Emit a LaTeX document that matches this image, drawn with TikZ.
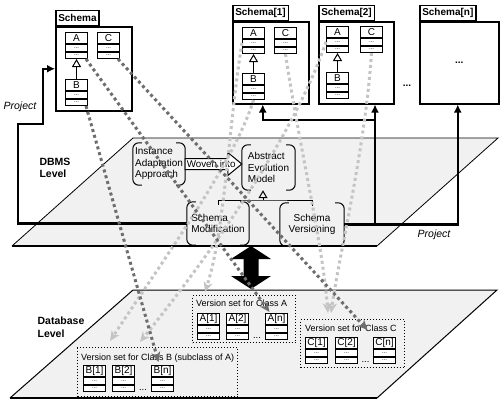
\documentclass[tikz,border=0pt]{standalone}
\usepackage{fontspec}
\setmainfont{Liberation Sans}
\usetikzlibrary{arrows.meta,calc}
\definecolor{planefill}{HTML}{F1F1F1}
\definecolor{darkdot}{HTML}{6E6E6E}
\definecolor{lightdot}{HTML}{C4C4C4}
\newcommand\umlc[4]{%
  \node[clshead, anchor=north west] (#1) at (#2,#3) {#4};
  \node[clsrow, anchor=north] (#1r1) at (#1.south) {...};
  \node[clsrow, anchor=north] (#1r2) at (#1r1.south) {...};
}
\newcommand\bracketnode[1]{%
  \draw[brline] ([xshift=9pt]#1.north west) -- (#1.north west) -- (#1.south west) -- ([xshift=9pt]#1.south west);
  \draw[brline] ([xshift=-9pt]#1.north east) -- (#1.north east) -- (#1.south east) -- ([xshift=-9pt]#1.south east);
}
\tikzset{
  clshead/.style={draw, line width=1pt, minimum width=22pt, minimum height=11pt, inner sep=0pt, fill=white, font=\fontsize{10}{10}\selectfont},
  clsrow/.style={draw, line width=1pt, minimum width=22pt, minimum height=6.5pt, inner sep=0pt, fill=white, font=\fontsize{6}{6}\selectfont},
  schbox/.style={draw, line width=1.5pt, fill=white, anchor=north west, inner sep=0pt},
  schlabel/.style={draw, line width=1.5pt, fill=white, anchor=south west, inner xsep=2.5pt, inner ysep=0pt, minimum height=15pt, font=\bfseries\fontsize{10}{10}\selectfont},
  brnode/.style={align=left, inner sep=0pt, font=\fontsize{10}{11.5}\selectfont},
  brline/.style={line width=1pt, rounded corners=6pt},
  proj/.style={line width=2.5pt, -{Latex[length=8pt,width=8pt]}},
  dotdark/.style={draw=darkdot, line width=3pt, dash pattern=on 3pt off 3pt, -{Stealth[length=10pt,width=9pt,inset=3pt]}},
  dotlight/.style={draw=lightdot, line width=3pt, dash pattern=on 3pt off 3pt, -{Stealth[length=10pt,width=9pt,inset=3pt]}},
  vset/.style={draw, dotted, line width=1pt, anchor=north west, inner sep=0pt},
  vlabel/.style={anchor=west, inner sep=0pt, font=\fontsize{9}{9}\selectfont},
  levellabel/.style={align=left, font=\bfseries\fontsize{10.5}{12.5}\selectfont},
  projlabel/.style={font=\itshape\fontsize{10.5}{10.5}\selectfont},
  inh/.style={line width=1pt, -{Triangle[open, length=8pt, width=9pt]}},
  bigdots/.style={inner sep=0pt, font=\bfseries\fontsize{10}{10}\selectfont},
}
\begin{document}
\begin{tikzpicture}[x=1pt, y=-1pt]
\useasboundingbox (0,0) rectangle (500,402);

% ---------- planes ----------
\fill[planefill] (133,138) -- (498,138) -- (377,246) -- (12,246) -- cycle;
\draw[line width=0.8pt] (12,246) -- (133,138) -- (498,138) -- (377,246);
\draw[line width=1.6pt] (12,246) -- (377,246);

\fill[planefill] (133,290) -- (497,290) -- (377,398) -- (10,398) -- cycle;
\draw[line width=1pt] (10,398) -- (133,290) -- (497,290) -- (377,398);
\draw[line width=1.6pt] (10,398) -- (377,398);

\node[levellabel] (dbmsl) at (55,168) {DBMS\\Level};
\node[levellabel] (dbl) at (61,327) {Database\\Level};

% ---------- top schemas ----------
\node[schbox, minimum width=76pt, minimum height=84pt] (S0) at (55,26) {};
\node[schlabel] (S0l) at (S0.north west) {Schema};
\umlc{A0}{65}{32}{A}
\umlc{C0}{97}{32}{C}
\umlc{B0}{65}{79}{B}
\draw[inh] (B0.north) -- (A0r2.south);

\node[schbox, minimum width=76pt, minimum height=82pt] (S1) at (232,21) {};
\node[schlabel] (S1l) at (S1.north west) {Schema[1]};
\umlc{A1s}{242}{27}{A}
\umlc{C1s}{274}{27}{C}
\umlc{B1s}{242}{73}{B}
\draw[inh] (B1s.north) -- (A1sr2.south);

\node[schbox, minimum width=75pt, minimum height=82pt] (S2) at (318,21) {};
\node[schlabel] (S2l) at (S2.north west) {Schema[2]};
\umlc{A2s}{326}{26}{A}
\umlc{C2s}{360}{26}{C}
\umlc{B2s}{326}{72}{B}
\draw[inh] (B2s.north) -- (A2sr2.south);

\node[bigdots] (midots) at (407,86) {...};

\node[schbox, minimum width=79pt, minimum height=82pt] (Sn) at (419,21) {};
\node[schlabel] (Snl) at (Sn.north west) {Schema[n]};
\node[bigdots] (sndots) at (Sn.center) {...};

% ---------- DBMS level nodes ----------
\node[brnode, minimum width=52pt, minimum height=42pt] (IAA) at (159,164) {Instance\\Adaptation\\Approach};
\node[brnode, minimum width=53pt, minimum height=45pt] (AEM) at (268.5,167.5) {Abstract\\Evolution\\Model};
\node[brnode, minimum width=62pt, minimum height=43pt] (SM) at (218,223.5) {Schema\\Modification};
\node[brnode, align=center, minimum width=64pt, minimum height=43pt] (SV) at (312,224.5) {Schema\\Versioning};
\bracketnode{IAA}
\bracketnode{AEM}
\bracketnode{SM}
\bracketnode{SV}

% Woven into arrow
\coordinate (wA) at (IAA.east);
\coordinate (wB) at (AEM.west |- IAA.east);
\draw[line width=1pt, fill=white] ($(wA)+(0,-5.5)$) -- ($(wB)+(-14,-5.5)$) -- ($(wB)+(-14,-11.5)$) -- (wB)
  -- ($(wB)+(-14,11.5)$) -- ($(wB)+(-14,5.5)$) -- ($(wA)+(0,5.5)$) -- cycle;
\node[inner sep=0pt, font=\fontsize{9.8}{9.8}\selectfont] (woven) at ($(wA)+(26,0)$) {Woven into};

% inheritance to Abstract Evolution Model
\coordinate (inhj) at (263,200);
\draw[line width=1pt] ([yshift=-3pt]SM.north) |- (inhj) -| ([yshift=-3pt]SV.north);
\draw[inh] (inhj) -- (AEM.south -| inhj);

% ---------- Project lines ----------
\coordinate (pj1) at (18,124);
\coordinate (pj2) at (43,124);
\draw[proj] (SM.west) -| (pj1) -- (pj2) |- (S0.west);
\node[projlabel] (projl) at (20,107) {Project};

\draw[proj] (SV.east) -| ([xshift=-1.5pt]Sn.south);
\coordinate (br1) at (375,224.5);
\draw[proj] (br1) -- (br1 |- S2.south);
\coordinate (br2) at (375,120);
\draw[proj] (br2) -| ([xshift=-8pt]S1.south);
\node[projlabel] (projr) at (434,235) {Project};

% ---------- big double arrow ----------
\fill[black] (251,246) -- (271,259) -- (258.5,259) -- (258.5,276) -- (271,276) -- (251,289)
  -- (231,276) -- (243.5,276) -- (243.5,259) -- (231,259) -- cycle;

% ---------- version sets ----------
\node[vset, minimum width=103pt, minimum height=47pt] (VSA) at (192,295) {};
\node[vlabel] (VSAl) at ($(VSA.north west)+(4,8)$) {Version set for Class A};
\umlc{A1}{197}{313}{A[1]}
\umlc{A2}{226}{313}{A[2]}
\umlc{An}{265}{313}{A[n]}
\node[anchor=base, inner sep=0pt, font=\fontsize{9.5}{9.5}\selectfont] (adots) at ($(A2r2.south east)!0.5!(Anr2.south west)+(0,-1.5)$) {...};

\node[vset, minimum width=160pt, minimum height=49pt] (VSB) at (77,347) {};
\node[vlabel] (VSBl) at ($(VSB.north west)+(4,11.5)$) {Version set for Class B (subclass of A)};
\umlc{B1}{83}{365}{B[1]}
\umlc{B2}{112}{365}{B[2]}
\umlc{Bn}{151}{365}{B[n]}
\node[anchor=base, inner sep=0pt, font=\fontsize{9.5}{9.5}\selectfont] (bdots) at ($(B2r2.south east)!0.5!(Bnr2.south west)+(0,-1.5)$) {...};

\node[vset, minimum width=104pt, minimum height=48pt] (VSC) at (300,319) {};
\node[vlabel] (VSCl) at ($(VSC.north west)+(5,9.5)$) {Version set for Class C};
\umlc{C1}{305}{337}{C[1]}
\umlc{C2}{335}{337}{C[2]}
\umlc{Cn}{373}{337}{C[n]}
\node[anchor=base, inner sep=0pt, font=\fontsize{9.5}{9.5}\selectfont] (cdots) at ($(C2r2.south east)!0.5!(Cnr2.south west)+(0,-1.5)$) {...};

% ---------- dotted mapping lines ----------
\draw[dotlight] (A1sr1.west) .. controls (228,130) and (225,230) .. ([xshift=13pt,yshift=3pt]VSA.north west);
\draw[dotlight] (B1sr2.south) .. controls (235,160) and (170,250) .. ([xshift=33pt,yshift=6pt]VSB.north west);
\draw[dotlight] (C1sr2.south) .. controls (300,150) and (322,240) .. ([xshift=28pt,yshift=6pt]VSC.north west);
\draw[dotlight] (A2sr1.west) .. controls (300,120) and (230,230) .. ([xshift=63pt,yshift=5pt]VSB.north west);
\draw[dotlight] (C2sr2.south) .. controls (365,150) and (340,250) .. ([xshift=31pt,yshift=6pt]VSC.north west);

\draw[dotdark] ([xshift=-2pt]A0r2.south east) -- ([xshift=-7pt,yshift=1pt]An.north);
\draw[dotdark] ([xshift=-2pt]B0r2.south east) -- ([xshift=-4pt,yshift=3pt]Bn.north);
\draw[dotdark] ([xshift=-2pt]C0r2.south east) -- ([xshift=-17pt,yshift=7pt]Cn.north);
\end{tikzpicture}
\end{document}
